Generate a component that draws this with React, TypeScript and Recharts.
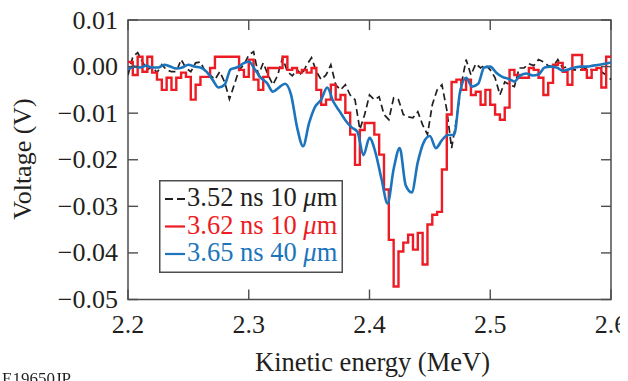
import React from 'react';
import { LineChart, Line, XAxis, YAxis, ReferenceArea, Legend } from 'recharts';

// Energy grids (MeV)
const FINE_START = 2.2;
const FINE_STEP = 0.004; // grid of the 3.52 ns and 3.62 ns traces
const BLUE_STEP = 0.005; // grid of the 3.65 ns trace

// Voltages in mV
const BLACK_MV = [
  -1.8, 2.1, 3.0, 1.0, -0.7, 0, -1.3, 0.4, -0.7, -1.1,
  -1.1, 1.5, -0.3, -1.1, 0.8, 1.0, -1.1, -1.8, -2.8, -1.1,
  -3.3, -7.0, -3.9, -0.7, 0.4, 2.5, 3.2, -1.8, 0.8, -1.8,
  -3.9, -1.8, 1.9, -1.1, -2.0, -0.7, -1.8, 0.4, 1.9, -1.1,
  -2.8, -1.8, 0.4, -3.9, -5.0, -3.9, -6.1, -7.1, -13.5, -10.3,
  -6.1, -7.1, -6.5, -10.3, -11.4, -6.7, -7.1, -10.3, -10.8, -11.0,
  -9.7, -12.5, -14.6, -8.2, -5.0, -3.9, -9.3, -17.5, -11.4, -3.9,
  1.5, -1.8, 0.6, -0.3, 0.4, -0.7, -2.4, -6.1, -3.3, -3.9,
  -4.3, -0.3, -0.3, 0.6, 0.2, 1.5, 1.0, 0.2, 0, 1.5,
  -0.3, 0, -0.7, -0.7, -0.7, -0.3, -0.7, -0.7, -1.1, -1.8,
  -2.8,
];

const RED_MV = [
  1.0, -1.8, 2.1, -1.1, 2.1, -1.3, -2.8, -5.0, -2.4, -5.0,
  -2.4, -1.3, -2.2, -7.1, -3.9, -2.2, -2.2, -0.3, 2.1, 2.1,
  2.1, 2.1, 2.1, -0.7, -2.2, 1.5, -2.8, -5.0, -2.2, -0.3,
  -0.3, -0.3, 2.1, -0.7, -0.3, -1.3, -0.7, -1.3, -0.3, -5.0,
  -8.2, -7.1, -3.9, -7.1, -6.1, -9.9, -14.6, -21.1, -13.6, -12.1,
  -12.1, -14.6, -18.9, -26.4, -37.2, -47.2, -39.7, -37.8, -36.1, -39.3,
  -35.7, -42.5, -33.9, -31.8, -31.2, -22.1, -10.3, -3.3, -2.8, -5.0,
  -2.8, -6.1, -5.4, -8.2, -5.0, -8.2, -10.3, -11.4, -8.8, -0.7,
  -1.8, -2.4, -2.4, -0.3, -0.7, -2.4, -6.1, -3.5, 0.4, 0.8,
  -1.1, -3.9, 2.5, 2.5, -0.7, -2.4, -0.7, -0.3, -4.5, 2.1,
  2.1,
];

const BLUE_MV = [
  -0.6, 0, -0.2, 0.2, -0.2, -0.2, 0.4, 0, -0.4, -0.2,
  0.4, 0, -0.2, -1.1, -2.8, -4.5, -3.9, -0.6, -0.2, 0.6,
  1.1, -0.6, -2.4, -3.5, -5.4, -4.5, -3.7, -6.0, -13.0, -17.1,
  -12.1, -8.6, -7.1, -4.5, -7.5, -9.5, -11.5, -13.0, -14.0, -19.0,
  -15.3, -18.5, -24.2, -29.4, -22.0, -17.5, -25.5, -27.0, -20.5, -16.2,
  -14.9, -17.5, -15.8, -14.7, -14.7, -5.4, -2.4, -4.3, -3.7, -0.2,
  0, -1.3, -2.2, -2.6, -3.2, -1.9, -1.5, -1.9, -1.7, -0.2,
  0, -0.2, -0.9, -0.6, -0.2, 0, 0, 0.2, 0.4, 0.6,
  0.9,
];

const SERIES_LABELS = ['3.52 ns 10 ', '3.62 ns 10 ', '3.65 ns 40 '];
const UNIT = 'm';
const MU = 'μ';

const X_TICKS = [2.2, 2.3, 2.4, 2.5, 2.6];
const Y_TICKS = [0.01, 0, -0.01, -0.02, -0.03, -0.04, -0.05];
const X_TITLE = 'Kinetic energy (MeV)';
const Y_TITLE = 'Voltage (V)';
const FIGURE_ID = 'E19650JP';

const toPoints = (mv: number[], step: number) =>
  mv.map((v, i) => ({ e: Math.round((FINE_START + i * step) * 1000) / 1000, v: v / 1000 }));

const blackData = toPoints(BLACK_MV, FINE_STEP);
const redData = toPoints(RED_MV, FINE_STEP);
const blueData = toPoints(BLUE_MV, BLUE_STEP);

const BLACK = '#231F20';
const RED = '#ED1C24';
const BLUE = '#1C75BC';
const AXIS = '#4D4D4D';
const FONT = '"Liberation Serif", "Times New Roman", serif';

const W = 620;
const H = 373;
const MARGIN = { top: 12, right: 17, left: 0, bottom: 0 };
const Y_AXIS_W = 120;
const X_AXIS_H = 81.5;
const PLOT_LEFT = MARGIN.left + Y_AXIS_W;
const PLOT_TOP = MARGIN.top;
const PLOT_RIGHT = W - MARGIN.right;
const PLOT_BOTTOM = H - MARGIN.bottom - X_AXIS_H;
const TICK_LEN = 10;

const fmtY = (v: number) => {
  if (Math.abs(v) < 1e-9) return '0.00';
  return v < 0 ? '\u2212' + Math.abs(v).toFixed(2) : v.toFixed(2);
};

const XTick = (props: any) => {
  const { x, payload } = props;
  return (
    <g>
      <line x1={x} x2={x} y1={PLOT_BOTTOM} y2={PLOT_BOTTOM - TICK_LEN} stroke={AXIS} strokeWidth={1.4} />
      <line x1={x} x2={x} y1={PLOT_TOP} y2={PLOT_TOP + TICK_LEN} stroke={AXIS} strokeWidth={1.4} />
      <text x={x} y={PLOT_BOTTOM + 33.5} textAnchor="middle" fontSize={26} fontFamily={FONT} fill={BLACK}>
        {Number(payload.value).toFixed(1)}
      </text>
    </g>
  );
};

const YTick = (props: any) => {
  const { y, payload } = props;
  return (
    <g>
      <line x1={PLOT_LEFT} x2={PLOT_LEFT + TICK_LEN} y1={y} y2={y} stroke={AXIS} strokeWidth={1.4} />
      <line x1={PLOT_RIGHT} x2={PLOT_RIGHT - TICK_LEN} y1={y} y2={y} stroke={AXIS} strokeWidth={1.4} />
      <text x={PLOT_LEFT - 10} y={y + 8.5} textAnchor="end" fontSize={26} fontFamily={FONT} fill={BLACK}>
        {fmtY(Number(payload.value))}
      </text>
    </g>
  );
};

const XTitle = () => (
  <text x={(PLOT_LEFT + PLOT_RIGHT) / 2 + 3} y={363} textAnchor="middle" fontSize={26.5} fontFamily={FONT} fill={BLACK}>
    {X_TITLE}
  </text>
);

const YTitle = () => (
  <text
    x={23}
    y={151}
    transform={`rotate(-90, 23, 151)`}
    textAnchor="middle"
    fontSize={26}
    fontFamily={FONT}
    fill={BLACK}
  >
    {Y_TITLE}
  </text>
);

const LEGEND_ROWS = [
  { color: BLACK, dashed: true, label: SERIES_LABELS[0] },
  { color: RED, dashed: false, label: SERIES_LABELS[1] },
  { color: BLUE, dashed: false, label: SERIES_LABELS[2] },
];

const LegendBox = () => (
  <svg width={184} height={93} style={{ display: 'block' }}>
    <rect x={0.75} y={0.75} width={182.5} height={91.5} fill="#fff" stroke={AXIS} strokeWidth={1.5} />
    {LEGEND_ROWS.map((r, i) => {
      const base = 26 + i * 27.5;
      const ly = base - 7;
      return (
        <g key={i}>
          {r.dashed ? (
            <line x1={6} x2={26} y1={ly} y2={ly} stroke={r.color} strokeWidth={2} strokeDasharray="8 4" />
          ) : (
            <line x1={6} x2={26} y1={ly} y2={ly} stroke={r.color} strokeWidth={2.2} />
          )}
          <text x={28} y={base} fontSize={26.5} fontFamily={FONT} fill={r.color}>
            {r.label}
            <tspan fontStyle="italic">{MU}</tspan>
            {UNIT}
          </text>
        </g>
      );
    })}
  </svg>
);

export default function App() {
  return (
    <div style={{ position: 'relative', width: W, height: H }}>
      <style>{'.recharts-surface{overflow:visible}'}</style>
      <LineChart width={W} height={H} margin={MARGIN}>
        <ReferenceArea
          x1={2.2}
          x2={2.6}
          y1={-0.05}
          y2={0.01}
          fill="none"
          stroke={AXIS}
          strokeWidth={1.5}
          ifOverflow="visible"
        />
        <XAxis
          dataKey="e"
          type="number"
          domain={[2.2, 2.6]}
          ticks={X_TICKS}
          allowDataOverflow
          height={X_AXIS_H}
          axisLine={false}
          tickLine={false}
          tickSize={0}
          tickMargin={0}
          tick={<XTick />}
          interval={0}
          label={<XTitle />}
        />
        <YAxis
          type="number"
          domain={[-0.05, 0.01]}
          ticks={Y_TICKS}
          allowDataOverflow
          width={Y_AXIS_W}
          axisLine={false}
          tickLine={false}
          tickSize={0}
          tickMargin={0}
          tick={<YTick />}
          interval={0}
          label={<YTitle />}
        />
        <Line
          data={blackData}
          dataKey="v"
          name={SERIES_LABELS[0]}
          type="linear"
          stroke={BLACK}
          strokeWidth={1.7}
          strokeDasharray="7 4"
          dot={false}
          isAnimationActive={false}
        />
        <Line
          data={redData}
          dataKey="v"
          name={SERIES_LABELS[1]}
          type="stepAfter"
          stroke={RED}
          strokeWidth={2.4}
          dot={false}
          isAnimationActive={false}
        />
        <Line
          data={blueData}
          dataKey="v"
          name={SERIES_LABELS[2]}
          type="monotone"
          stroke={BLUE}
          strokeWidth={2.6}
          dot={false}
          isAnimationActive={false}
        />
        <Legend
          layout="horizontal"
          verticalAlign="middle"
          align="center"
          wrapperStyle={{ left: 151, top: 172, width: 184, height: 93 }}
          content={() => <LegendBox />}
        />
      </LineChart>
      <div
        style={{
          position: 'fixed',
          left: 2,
          top: 370,
          fontFamily: FONT,
          fontSize: 17,
          lineHeight: '17px',
          color: BLACK,
          whiteSpace: 'nowrap',
        }}
      >
        {FIGURE_ID}
      </div>
    </div>
  );
}
